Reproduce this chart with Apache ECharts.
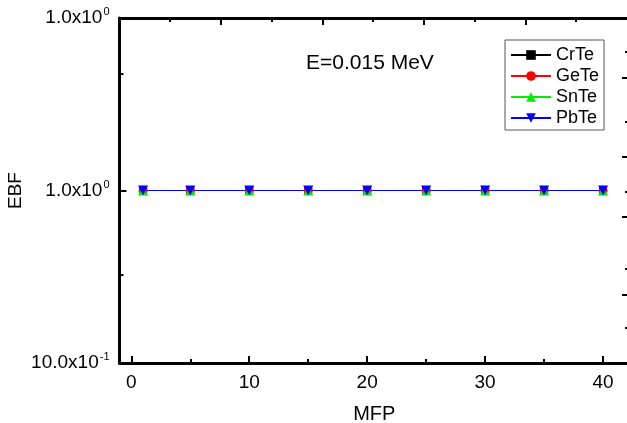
<!DOCTYPE html>
<html>
<head>
<meta charset="utf-8">
<script src="https://cdn.jsdelivr.net/npm/echarts@6/dist/echarts.min.js"></script>
<style>
  html, body { margin: 0; padding: 0; background: #fff; }
  #chart { width: 627px; height: 423px; }
</style>
</head>
<body>
<div id="chart"></div>
<script>
// Mean free path positions and exposure buildup factors
const mfp = [1, 5, 10, 15, 20, 25, 30, 35, 40];
const crTe = [1.0, 1.0, 1.0, 1.0, 1.0, 1.0, 1.0, 1.0, 1.0];
const geTe = [1.0, 1.0, 1.0, 1.0, 1.0, 1.0, 1.0, 1.0, 1.0];
const snTe = [1.0, 1.0, 1.0, 1.0, 1.0, 1.0, 1.0, 1.0, 1.0];
const pbTe = [1.0, 1.0, 1.0, 1.0, 1.0, 1.0, 1.0, 1.0, 1.0];

// Axis ticks and labels
const xMajorTicks = [0, 10, 20, 30, 40];
const xMinorTicks = [5, 15, 25, 35];
const yTickValues = [0.99, 1.0, 1.01];
const yTickBases = ['10.0x10', '1.0x10', '1.0x10'];
const yTickExps = ['-1', '0', '0'];
// secondary scales of the frame's top and right edges
const topMajorTicks = [1, 2, 3, 4];
const topMinorTicks = [0.5, 1.5, 2.5, 3.5, 4.5];
const leftMinorTicks = [1.00675, 0.9951];
const rightMajorTicks = [1.00652, 1.00194, 0.99846, 0.99394];
const rightMinorTicks = [1.00803, 1.00397, 0.99991, 0.99545, 0.99203];

const annotation = 'E=0.015 MeV';

const FONT = 'Liberation Sans, Arial, sans-serif';
const X_MIN = -1, X_MAX = 42.2;
const Y_MIN = 0.99, Y_MAX = 1.01;

const frameLine = { show: true, onZero: false, lineStyle: { color: '#000', width: 3 } };
const hiddenLine = { show: false, onZero: false };

function yLabel(v) {
  let best = 0;
  for (let i = 1; i < yTickValues.length; i++) {
    if (Math.abs(yTickValues[i] - v) < Math.abs(yTickValues[best] - v)) best = i;
  }
  return '{b|' + yTickBases[best] + '}{s|' + yTickExps[best] + '}';
}

// an extra axis that only contributes ticks (and optionally a frame line)
function tickAxis(base, values, len, showLine) {
  return Object.assign({
    type: 'value',
    axisLine: showLine ? frameLine : hiddenLine,
    axisTick: { show: true, inside: true, length: len, customValues: values,
                lineStyle: { color: '#000', width: 2 } },
    axisLabel: { show: false },
    splitLine: { show: false }
  }, base);
}

const chart = echarts.init(document.getElementById('chart'), null, { renderer: 'canvas' });

const mk = (name, data, color, symbol, size, rotate) => ({
  name, type: 'line', data: mfp.map((x, i) => [x, data[i]]),
  xAxisIndex: 0, yAxisIndex: 0,
  symbol, symbolSize: size, symbolRotate: rotate || 0,
  lineStyle: { color, width: 1 },
  itemStyle: { color },
  emphasis: { disabled: true },
  animation: false
});

chart.setOption({
  animation: false,
  backgroundColor: '#fff',
  grid: { left: 119.5, top: 18, right: -2, bottom: 60, containLabel: false, outerBoundsMode: 'none' },
  xAxis: [
    {
      type: 'value', min: X_MIN, max: X_MAX, position: 'bottom',
      name: 'MFP', nameLocation: 'middle', nameGap: 41, nameMoveOverlap: false,
      nameTextStyle: { fontFamily: FONT, fontSize: 20, color: '#000' },
      axisLine: frameLine,
      axisTick: { show: true, inside: true, length: 7, customValues: xMajorTicks,
                  lineStyle: { color: '#000', width: 2 } },
      axisLabel: { show: true, customValues: xMajorTicks, margin: 10,
                   fontFamily: FONT, fontSize: 19, color: '#000' },
      splitLine: { show: false }
    },
    tickAxis({ min: X_MIN, max: X_MAX, position: 'bottom' }, xMinorTicks, 4, false),
    tickAxis({ min: 0, max: 5.02, position: 'top' }, topMajorTicks, 7, true),
    tickAxis({ min: 0, max: 5.02, position: 'top' }, topMinorTicks, 4, false)
  ],
  yAxis: [
    {
      type: 'value', min: Y_MIN, max: Y_MAX, position: 'left',
      name: 'EBF', nameLocation: 'middle', nameGap: 94, nameRotate: 90, nameMoveOverlap: false,
      nameTextStyle: { fontFamily: FONT, fontSize: 19, color: '#000' },
      axisLine: frameLine,
      axisTick: { show: true, inside: true, length: 7, customValues: [1.0],
                  lineStyle: { color: '#000', width: 2 } },
      axisLabel: {
        show: true, customValues: yTickValues, margin: 10,
        formatter: yLabel,
        rich: {
          b: { fontFamily: FONT, fontSize: 19, color: '#000' },
          s: { fontFamily: FONT, fontSize: 11, color: '#000', padding: [0, 0, 12, 1] }
        }
      },
      splitLine: { show: false }
    },
    tickAxis({ min: Y_MIN, max: Y_MAX, position: 'left' }, leftMinorTicks, 4, false),
    tickAxis({ min: Y_MIN, max: Y_MAX, position: 'right' }, rightMajorTicks, 7, true),
    tickAxis({ min: Y_MIN, max: Y_MAX, position: 'right' }, rightMinorTicks, 4, false)
  ],
  legend: {
    orient: 'vertical', left: 505, top: 40,
    padding: [6, 5, 3, 5],
    itemWidth: 40, itemHeight: 12, itemGap: 3,
    backgroundColor: '#fff',
    borderColor: '#555', borderWidth: 1,
    textStyle: { fontFamily: FONT, fontSize: 18, color: '#000', lineHeight: 17 },
    data: ['CrTe', 'GeTe', 'SnTe', 'PbTe']
  },
  graphic: [{
    type: 'text', left: 306, top: 53,
    style: { text: annotation, font: '21px ' + FONT, fill: '#000' }
  }],
  series: [
    mk('CrTe', crTe, '#000000', 'rect', 8),
    mk('GeTe', geTe, '#ff0000', 'circle', 9),
    mk('SnTe', snTe, '#00ee00', 'triangle', 10),
    mk('PbTe', pbTe, '#0000ff', 'triangle', 10, 180)
  ]
});
</script>
</body>
</html>
